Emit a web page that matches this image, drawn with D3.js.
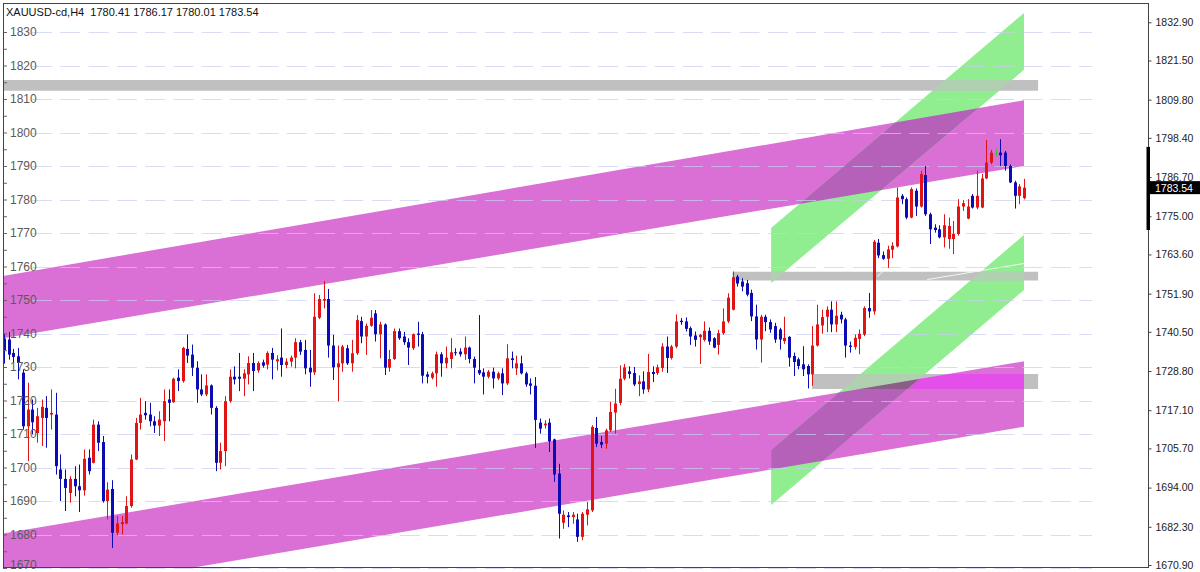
<!DOCTYPE html>
<html><head><meta charset="utf-8">
<script src="https://cdn.jsdelivr.net/npm/d3@7"></script>
<style>
html,body{margin:0;padding:0;background:#fff;}
svg{display:block;}
</style></head><body>
<svg id="chart" width="1200" height="572"></svg>
<script>
// ---------------- DATA ----------------
const title = "XAUUSD-cd,H4  1780.41 1786.17 1780.01 1783.54";
const opens = [1738.5,1738.2,1734.2,1733.2,1728.3,1712.3,1717.3,1710.3,1714.8,1717.8,1715.8,1715.8,1699.4,1696.6,1692.4,1696.6,1694.4,1693.2,1702.9,1701.4,1712.8,1707.6,1690.0,1693.6,1680.5,1683.1,1683.3,1688.5,1702.4,1713.3,1716.3,1715.8,1713.8,1712.5,1713.8,1720.3,1719.5,1726.8,1725.8,1735.4,1733.7,1729.8,1723.3,1721.8,1724.5,1717.8,1701.4,1704.9,1719.8,1727.1,1727.1,1726.5,1727.8,1731.2,1729.0,1731.4,1730.7,1734.2,1731.7,1732.8,1730.6,1731.6,1732.8,1737.4,1735.1,1729.8,1728.4,1744.7,1749.8,1750.3,1736.4,1729.9,1731.1,1735.6,1731.1,1734.1,1743.7,1739.1,1742.3,1746.0,1739.8,1742.7,1729.8,1732.4,1740.7,1739.1,1737.4,1735.6,1740.0,1739.8,1727.8,1726.8,1728.1,1733.8,1731.1,1732.4,1734.4,1734.6,1733.8,1735.8,1732.4,1729.1,1728.4,1727.1,1728.6,1726.6,1728.1,1725.1,1732.6,1729.6,1731.1,1728.1,1725.1,1724.4,1713.4,1712.6,1713.4,1708.4,1698.2,1683.5,1685.7,1685.2,1684.5,1679.3,1685.9,1687.2,1711.8,1707.6,1707.1,1711.1,1716.4,1719.3,1726.5,1728.7,1728.2,1724.9,1725.7,1723.3,1728.5,1728.2,1729.7,1736.1,1732.7,1736.1,1743.8,1743.6,1741.6,1739.4,1738.9,1738.1,1740.8,1738.6,1736.6,1740.1,1743.6,1747.1,1757.0,1755.5,1755.0,1752.1,1745.1,1738.2,1745.0,1743.4,1742.2,1741.2,1737.7,1739.0,1733.3,1732.3,1730.8,1730.3,1727.8,1736.4,1742.4,1745.0,1747.1,1742.7,1745.6,1744.2,1736.4,1736.0,1738.4,1739.7,1747.6,1746.6,1767.1,1763.4,1762.3,1765.0,1766.0,1781.1,1780.1,1774.6,1782.6,1777.9,1787.3,1775.6,1771.6,1771.1,1768.7,1768.2,1768.2,1769.7,1777.9,1774.3,1781.1,1777.6,1777.6,1786.3,1791.0,1793.8,1794.0,1794.0,1790.0,1785.1,1781.1,1780.41];
const highs = [1740.0,1740.5,1735.4,1735.7,1729.3,1725.3,1720.3,1717.8,1720.3,1721.3,1723.3,1722.3,1703.9,1699.4,1697.4,1700.4,1700.9,1705.4,1705.4,1714.3,1713.8,1709.4,1695.6,1696.2,1685.5,1685.5,1691.4,1703.9,1714.8,1720.8,1719.8,1719.3,1715.3,1716.8,1723.3,1723.3,1726.8,1729.3,1736.0,1739.7,1736.7,1731.7,1727.8,1727.8,1724.8,1718.3,1707.4,1721.3,1729.3,1730.2,1734.2,1729.3,1733.2,1734.2,1731.7,1732.2,1734.7,1735.7,1733.5,1741.5,1732.6,1733.4,1738.6,1738.1,1738.1,1735.1,1752.0,1751.5,1755.7,1753.3,1739.6,1736.4,1736.6,1736.6,1738.1,1745.5,1745.0,1743.0,1747.0,1747.0,1743.5,1743.0,1735.1,1741.5,1741.5,1740.5,1738.6,1740.0,1743.5,1740.5,1728.6,1728.6,1734.6,1734.4,1736.1,1738.6,1735.6,1735.6,1739.1,1736.1,1733.1,1745.5,1729.6,1729.1,1729.8,1728.6,1729.6,1736.8,1734.6,1733.4,1733.4,1728.6,1726.6,1727.0,1714.6,1714.1,1714.6,1708.6,1701.1,1687.2,1686.7,1686.7,1686.2,1686.7,1689.7,1712.6,1715.1,1709.4,1711.6,1719.6,1723.5,1730.5,1730.9,1730.2,1730.0,1727.5,1728.7,1733.9,1730.2,1730.7,1737.1,1739.1,1736.6,1745.7,1744.6,1744.8,1742.1,1740.6,1739.9,1743.6,1741.8,1738.9,1741.1,1747.5,1752.0,1758.5,1757.5,1756.5,1756.0,1753.1,1748.6,1745.6,1745.6,1744.2,1743.2,1741.7,1745.0,1739.2,1734.3,1732.8,1736.2,1730.8,1742.2,1748.6,1747.1,1748.1,1749.6,1749.6,1746.5,1744.7,1737.6,1739.7,1741.2,1748.1,1752.1,1767.9,1768.2,1764.5,1766.2,1767.2,1783.6,1781.6,1780.6,1783.6,1783.3,1788.6,1790.0,1776.1,1772.6,1772.3,1775.6,1774.6,1773.6,1780.1,1779.8,1780.1,1781.6,1788.6,1787.6,1797.8,1794.8,1795.2,1798.0,1794.5,1790.5,1785.6,1784.6,1786.17];
const lows = [1731.0,1732.2,1731.2,1726.3,1711.3,1701.9,1709.9,1707.4,1706.4,1705.9,1711.3,1697.9,1690.0,1687.0,1689.5,1691.4,1686.7,1691.6,1697.9,1701.2,1704.9,1689.5,1684.5,1676.0,1679.7,1680.0,1683.0,1688.0,1702.2,1711.3,1714.3,1712.3,1710.3,1709.4,1707.9,1713.8,1719.3,1722.8,1725.3,1731.2,1727.3,1719.3,1721.3,1721.3,1715.8,1698.9,1699.4,1700.4,1719.3,1724.8,1722.8,1721.3,1724.8,1722.8,1728.3,1729.8,1729.3,1726.3,1729.0,1727.1,1729.6,1730.1,1729.6,1733.6,1727.8,1724.1,1727.6,1744.3,1747.5,1732.8,1726.1,1719.7,1728.6,1730.6,1728.6,1733.6,1737.1,1733.6,1742.0,1737.6,1732.6,1727.6,1728.6,1732.1,1738.1,1736.6,1730.6,1735.1,1736.1,1725.1,1725.1,1726.3,1724.1,1727.1,1729.6,1729.6,1733.4,1733.1,1732.1,1731.1,1725.1,1727.6,1721.8,1726.6,1723.6,1726.1,1721.6,1724.6,1729.6,1727.6,1727.8,1724.1,1721.8,1705.8,1710.1,1711.6,1704.6,1695.7,1678.8,1681.7,1682.2,1683.2,1677.8,1678.3,1682.7,1686.7,1706.1,1705.8,1705.6,1710.6,1710.1,1718.6,1726.0,1726.6,1724.3,1721.3,1722.0,1722.5,1725.5,1727.6,1728.6,1728.2,1732.2,1735.6,1742.6,1740.6,1736.6,1736.1,1730.9,1737.6,1736.6,1735.6,1733.7,1739.6,1743.1,1746.9,1754.0,1752.6,1751.1,1743.7,1735.2,1731.3,1740.7,1740.2,1737.2,1735.2,1736.9,1730.1,1727.3,1729.3,1727.3,1723.6,1724.4,1736.1,1739.9,1740.4,1740.4,1740.4,1743.0,1732.8,1734.3,1735.2,1733.8,1739.2,1744.7,1745.6,1762.5,1762.0,1759.6,1762.5,1765.7,1778.6,1774.1,1774.4,1775.1,1777.6,1775.1,1766.7,1770.1,1768.4,1765.7,1765.3,1763.7,1769.2,1776.6,1774.1,1777.3,1777.1,1777.4,1786.1,1790.5,1792.8,1790.0,1788.6,1784.9,1777.3,1778.6,1780.01];
const closes = [1735.0,1733.7,1733.0,1731.2,1712.3,1717.3,1713.5,1715.3,1718.1,1714.8,1716.3,1700.4,1696.6,1693.9,1696.6,1694.4,1693.2,1702.6,1698.9,1712.8,1707.4,1690.0,1693.4,1680.5,1683.3,1683.7,1688.5,1702.4,1713.3,1715.8,1715.6,1713.8,1712.5,1714.3,1719.8,1719.3,1726.5,1725.8,1735.7,1733.4,1729.8,1723.3,1721.8,1724.5,1717.8,1701.4,1704.9,1719.8,1727.1,1726.3,1726.5,1728.1,1731.2,1728.8,1731.2,1730.4,1734.2,1732.2,1732.3,1730.6,1731.6,1732.8,1737.4,1734.6,1729.6,1728.4,1745.0,1750.3,1750.3,1736.4,1729.9,1731.1,1736.1,1731.1,1734.1,1744.0,1739.1,1742.3,1744.7,1739.8,1742.7,1729.8,1732.4,1740.7,1738.6,1737.4,1735.8,1739.8,1739.6,1727.4,1727.1,1728.1,1733.8,1731.1,1732.8,1734.4,1734.1,1733.8,1735.8,1732.4,1729.8,1728.1,1727.1,1728.6,1726.6,1728.1,1725.1,1732.6,1732.1,1731.1,1728.1,1724.8,1724.4,1714.2,1711.6,1713.1,1707.8,1697.9,1686.2,1685.9,1685.2,1685.9,1679.3,1686.2,1687.5,1712.1,1707.1,1706.8,1711.1,1716.6,1719.1,1726.5,1729.9,1727.9,1724.8,1725.7,1723.3,1728.5,1727.9,1729.9,1736.1,1732.7,1736.1,1743.6,1743.4,1741.4,1739.1,1738.1,1739.6,1740.8,1737.6,1735.8,1740.1,1743.6,1750.7,1756.8,1754.9,1754.0,1751.6,1745.1,1738.2,1745.0,1743.4,1741.2,1738.2,1738.2,1738.7,1732.8,1731.5,1730.3,1729.3,1727.8,1736.4,1742.7,1744.9,1747.1,1742.7,1745.3,1744.2,1736.4,1736.0,1738.7,1739.9,1747.6,1746.6,1767.4,1763.3,1762.3,1765.1,1766.2,1780.6,1780.1,1774.6,1783.1,1777.9,1787.6,1775.6,1771.1,1770.9,1768.7,1772.3,1772.1,1769.7,1777.9,1778.9,1777.9,1777.6,1781.1,1786.3,1791.0,1794.0,1793.8,1793.2,1790.0,1785.1,1781.1,1783.9,1783.54];

const leftTicks = [1670,1680,1690,1700,1710,1720,1730,1740,1750,1760,1770,1780,1790,1800,1810,1820,1830];
const leftMinorTicks = [1675,1685,1695,1705,1715,1725,1735,1745,1755,1765,1775,1785,1795,1805,1815,1825];
const rightTicks = [1832.90,1821.50,1809.80,1798.40,1786.70,1775.00,1763.60,1751.90,1740.50,1728.80,1717.10,1705.70,1694.00,1682.30,1670.90];
const lastPrice = 1783.54;
const scrollBar = [1770.9, 1795.7];

// overlay objects: [barIndex, topPrice, bottomPrice] at the two ends
const magentaUpper = [[-1, 1757.0, 1738.4], [217, 1809.6, 1790.0]];
const magentaLower = [[-1, 1680.1, 1660.3], [217, 1731.7, 1712.2]];
const greenUpper   = [[163.2, 1771.5, 1755.1], [217, 1835.7, 1818.7]];
const greenLower   = [[163.2, 1705.2, 1688.8], [217, 1769.4, 1753.0]];
const grayTop      = [[-1, 1815.7, 1812.5], [220, 1815.7, 1812.5]];
const grayMid      = [[155, 1758.45, 1755.8], [220, 1758.45, 1755.8]];
const grayLow      = [[171.9, 1727.9, 1723.4], [220, 1727.9, 1723.4]];
const thinLines    = [[[185.8, 1757.0], [187.2, 1758.8]], [[196.4, 1756.1], [217, 1760.9]]];

// ---------------- SCALES ----------------
const W = 1200, H = 572;
const plot = {left: 3, right: 1148, top: 3, bottom: 567};
const x = d3.scaleLinear().domain([0, 217]).range([4, 1024]);
const y = d3.scaleLinear().domain([1670, 1830]).range([568, 32]);

const svg = d3.select("#chart");
svg.append("rect").attr("width", W).attr("height", H).attr("fill", "#fff");
const defs = svg.append("defs");
defs.append("clipPath").attr("id", "plotClip").append("rect")
  .attr("x", plot.left).attr("y", plot.top)
  .attr("width", plot.right - plot.left).attr("height", plot.bottom - plot.top);

const line = d3.line().x(d => x(d[0])).y(d => y(d[1]));
function quad(def) {
  const [a, b] = def;
  return line([[a[0], a[1]], [b[0], b[1]], [b[0], b[2]], [a[0], a[2]]]) + "Z";
}

// ---------------- OVERLAYS (XOR-style colour mixing as in MT4) ----------------
const orchid = [218, 112, 214], lightgreen = [144, 238, 144], silver = [192, 192, 192];
const shapes = [
  {def: magentaUpper, col: orchid},
  {def: magentaLower, col: orchid},
  {def: greenUpper, col: lightgreen},
  {def: greenLower, col: lightgreen},
  {def: grayTop, col: silver},
  {def: grayMid, col: silver},
  {def: grayLow, col: silver}
];
shapes.forEach((s, j) => {
  defs.append("clipPath").attr("id", "sc" + j).append("path").attr("d", quad(s.def));
});
function xorCol(members) {
  let c = [255, 255, 255];
  members.forEach(m => { for (let k = 0; k < 3; k++) c[k] ^= (shapes[m].col[k] ^ 255); });
  return `rgb(${c[0]},${c[1]},${c[2]})`;
}
const ov = svg.append("g").attr("clip-path", "url(#plotClip)");
const n = shapes.length;
const masks = d3.range(1, 1 << n).map(m => d3.range(n).filter(j => m & (1 << j)))
  .sort((a, b) => a.length - b.length);
masks.forEach(mem => {
  let g = ov;
  for (let k = 0; k < mem.length - 1; k++) g = g.append("g").attr("clip-path", `url(#sc${mem[k]})`);
  g.append("path").attr("d", quad(shapes[mem[mem.length - 1]].def)).attr("fill", xorCol(mem));
});

// thin light lines
ov.selectAll("line.thin").data(thinLines).join("line")
  .attr("x1", d => x(d[0][0])).attr("y1", d => y(d[0][1]))
  .attr("x2", d => x(d[1][0])).attr("y2", d => y(d[1][1]))
  .attr("stroke", "#f4f4f4").attr("stroke-width", 1);

// ---------------- GRID ----------------
svg.append("g").selectAll("line").data(leftTicks).join("line")
  .attr("x1", 32).attr("x2", 1092)
  .attr("y1", d => Math.round(y(d)) + 0.5).attr("y2", d => Math.round(y(d)) + 0.5)
  .attr("stroke", "#c9cdef").attr("stroke-opacity", 0.7)
  .attr("stroke-dasharray", "20,8.3");

// ---------------- CANDLES ----------------
const idx = d3.range(opens.length);
const colorOf = i => closes[i] > opens[i] ? "#e01414" : (closes[i] < opens[i] ? "#0c0cb4" : "#44bb44");
const cg = svg.append("g").attr("clip-path", "url(#plotClip)");
cg.selectAll("line.wick").data(idx).join("line")
  .attr("x1", i => Math.round(x(i)) + 0.5).attr("x2", i => Math.round(x(i)) + 0.5)
  .attr("y1", i => y(highs[i])).attr("y2", i => y(lows[i]))
  .attr("stroke", colorOf).attr("stroke-width", 1);
cg.selectAll("rect.body").data(idx).join("rect")
  .attr("x", i => Math.round(x(i)) - 1)
  .attr("width", 3)
  .attr("y", i => y(Math.max(opens[i], closes[i])))
  .attr("height", i => Math.max(1, Math.abs(y(opens[i]) - y(closes[i]))))
  .attr("fill", colorOf);

// ---------------- LEFT AXIS ----------------
const la = svg.append("g").attr("transform", `translate(${plot.left},0)`)
  .call(d3.axisRight(y).tickValues(leftTicks).tickFormat(d3.format("d")).tickSize(4).tickPadding(3));
la.select(".domain").remove();
la.selectAll("line").attr("stroke", "#666");
la.selectAll("text").attr("fill", "#5a5a5a").attr("font-size", 12)
  .attr("font-family", "Liberation Sans, Arial, sans-serif");
// keep the lowest label inside the picture
la.selectAll(".tick").filter(d => d === leftTicks[0]).select("text").attr("dy", "0.05em");
const lm = svg.append("g").attr("transform", `translate(${plot.left},0)`)
  .call(d3.axisRight(y).tickValues(leftMinorTicks).tickFormat("").tickSize(4));
lm.select(".domain").remove();
lm.selectAll("line").attr("stroke", "#666");

// ---------------- FRAME ----------------
svg.append("rect").attr("x", plot.left + 0.5).attr("y", plot.top + 0.5)
  .attr("width", plot.right - plot.left).attr("height", plot.bottom - plot.top)
  .attr("fill", "none").attr("stroke", "#444").attr("stroke-width", 1);

// ---------------- RIGHT AXIS ----------------
const ra = svg.append("g").attr("transform", `translate(${plot.right + 0.5},0)`)
  .call(d3.axisRight(y).tickValues(rightTicks).tickFormat(d3.format(".2f")).tickSize(3).tickPadding(4));
ra.select(".domain").remove();
ra.selectAll("line").attr("stroke", "#444");
ra.selectAll("text").attr("fill", "#222").attr("font-size", 10.5)
  .attr("font-family", "Liberation Sans, Arial, sans-serif");

// scroll bar on the price axis
svg.append("rect").attr("x", plot.right - 1.5).attr("width", 3.5)
  .attr("y", y(scrollBar[1])).attr("height", y(scrollBar[0]) - y(scrollBar[1]))
  .attr("fill", "#000");

// current price label
svg.append("rect").attr("x", plot.right + 0.5).attr("width", W - plot.right)
  .attr("y", y(lastPrice) - 6.5).attr("height", 13).attr("fill", "#000");
svg.append("text").attr("x", plot.right + 7).attr("y", y(lastPrice) + 4)
  .attr("fill", "#fff").attr("font-size", 10.5)
  .attr("font-family", "Liberation Sans, Arial, sans-serif").text(d3.format(".2f")(lastPrice));

// ---------------- TITLE ----------------
svg.append("text").attr("x", 6).attr("y", 16)
  .attr("font-size", 11).attr("fill", "#111")
  .attr("font-family", "Liberation Sans, Arial, sans-serif")
  .style("white-space", "pre")
  .text(title);
</script>
</body></html>
